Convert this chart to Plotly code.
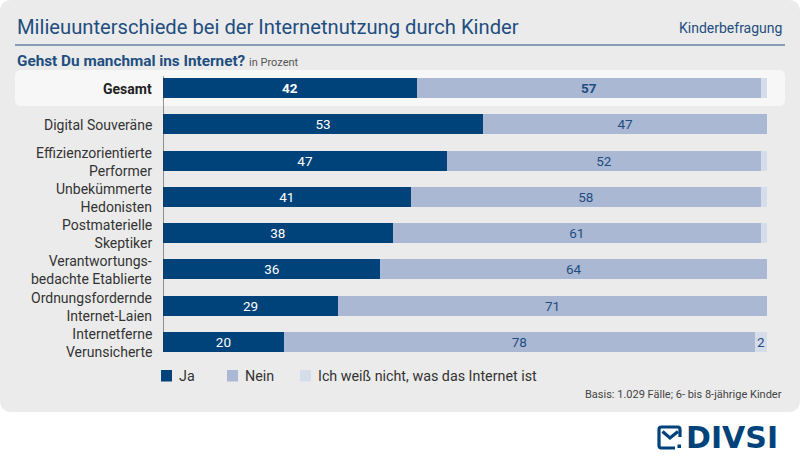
import plotly.graph_objects as go

# ---------------- data ----------------
categories = ["Gesamt", "Digital Souveräne", "Effizienzorientierte<br>Performer",
              "Unbekümmerte<br>Hedonisten", "Postmaterielle<br>Skeptiker",
              "Verantwortungs-<br>bedachte Etablierte", "Ordnungsfordernde<br>Internet-Laien",
              "Internetferne<br>Verunsicherte"]
ja = [42, 53, 47, 41, 38, 36, 29, 20]
nein = [57, 47, 52, 58, 61, 64, 71, 78]
weiss_nicht = [1, 0, 1, 1, 1, 0, 0, 2]
series_names = ["Ja", "Nein", "Ich weiß nicht, was das Internet ist"]

title = "Milieuunterschiede bei der Internetnutzung durch Kinder"
subtitle = "Gehst Du manchmal ins Internet?"
unit = "in Prozent"
tag = "Kinderbefragung"
source = "Basis: 1.029 Fälle; 6- bis 8-jährige Kinder"

# ---------------- style ----------------
W, H = 800, 463
ML, MR, MT, MB = 163, 33, 70, 103
PW, PH = W - ML - MR, H - MT - MB
C_JA = "#00427a"
C_NEIN = "#aab8d4"
C_WN = "#d5dcea"
C_TXT = "#333333"
C_BLUE = "#1f4e80"
FONT = "Roboto, 'Open Sans', sans-serif"


def px_x(p):
    return (p - ML) / PW


def px_y(p):
    return (H - MB - p) / PH


def rrect(x0, y0, x1, y1, r):
    rx, ry = r / PW, r / PH
    X0, X1 = px_x(x0), px_x(x1)
    Y0, Y1 = px_y(y0), px_y(y1)  # Y0 top (larger), Y1 bottom
    return (f"M{X0+rx},{Y0} L{X1-rx},{Y0} Q{X1},{Y0} {X1},{Y0-ry} "
            f"L{X1},{Y1+ry} Q{X1},{Y1} {X1-rx},{Y1} L{X0+rx},{Y1} "
            f"Q{X0},{Y1} {X0},{Y1+ry} L{X0},{Y0-ry} Q{X0},{Y0} {X0+rx},{Y0} Z")


def lab(vals, keep=lambda v: True, bold_first=True):
    out = []
    for i, v in enumerate(vals):
        if v <= 0 or not keep(v):
            out.append("")
        elif i == 0 and bold_first:
            out.append(f"<b>{v}</b>")
        else:
            out.append(str(v))
    return out


fig = go.Figure()
common = dict(orientation="h", textposition="inside", insidetextanchor="middle",
              textangle=0, constraintext="none")
fig.add_trace(go.Bar(y=categories, x=ja, name=series_names[0],
                     marker=dict(color=C_JA, line=dict(width=0)), text=lab(ja),
                     textfont=dict(color="white", size=13.5, family=FONT), **common))
fig.add_trace(go.Bar(y=categories, x=nein, name=series_names[1],
                     marker=dict(color=C_NEIN, line=dict(width=0)), text=lab(nein),
                     textfont=dict(color=C_BLUE, size=13.5, family=FONT), **common))
fig.add_trace(go.Bar(y=categories, x=weiss_nicht, name=series_names[2],
                     marker=dict(color=C_WN, line=dict(width=0)),
                     text=lab(weiss_nicht, keep=lambda v: v >= 2),
                     textfont=dict(color=C_BLUE, size=13.5, family=FONT), **common))

shapes = [
    dict(type="path", xref="paper", yref="paper", path=rrect(0, 0, 800, 412, 12),
         fillcolor="#ebebeb", line=dict(width=0), layer="below"),
    dict(type="path", xref="paper", yref="paper", path=rrect(15, 70, 785, 106, 6),
         fillcolor="#f7f7f7", line=dict(width=0), layer="below"),
    dict(type="line", xref="paper", yref="paper", x0=px_x(15), x1=px_x(785),
         y0=px_y(45), y1=px_y(45), line=dict(color=C_BLUE, width=1)),
    dict(type="line", xref="x", yref="y", x0=0, x1=0, y0=-0.33, y1=7.28,
         line=dict(color=C_TXT, width=1)),
]

annotations = [
    dict(text=title, xref="paper", yref="paper", x=px_x(15), y=px_y(27), xanchor="left",
         yanchor="middle", showarrow=False, font=dict(size=20.2, color=C_BLUE, family=FONT)),
    dict(text=tag, xref="paper", yref="paper", x=px_x(784), y=px_y(28), xanchor="right",
         yanchor="middle", showarrow=False, font=dict(size=14, color=C_BLUE, family=FONT)),
    dict(text=f"<b>{subtitle}</b> <span style='font-size:11px;color:#555555'>{unit}</span>",
         xref="paper", yref="paper", x=px_x(15), y=px_y(61), xanchor="left",
         yanchor="middle", showarrow=False, font=dict(size=15.3, color=C_BLUE, family=FONT)),
    dict(text=source, xref="paper", yref="paper", x=px_x(784), y=px_y(394), xanchor="right",
         yanchor="middle", showarrow=False, font=dict(size=11, color="#444444", family=FONT)),
    dict(text="<b>DIVSI</b>", xref="paper", yref="paper", x=px_x(684), y=px_y(438),
         xanchor="left", yanchor="middle", showarrow=False,
         font=dict(size=30, color=C_JA, family="DejaVu Sans")),
]

# category labels
for i, c in enumerate(categories):
    txt = f"<b>{c}</b>" if i == 0 else c
    annotations.append(dict(text=txt, xref="paper", yref="y", x=0, y=c, xshift=-9, yshift=-1,
                            xanchor="right", yanchor="middle", align="right", showarrow=False,
                            font=dict(size=14, color="#222222" if i == 0 else C_TXT, family=FONT)))

# custom legend
leg_sq = [161, 227, 300]
leg_col = [C_JA, C_NEIN, C_WN]
for sx, col, nm in zip(leg_sq, leg_col, series_names):
    shapes.append(dict(type="rect", xref="paper", yref="paper", x0=px_x(sx), x1=px_x(sx + 11),
                       y0=px_y(370), y1=px_y(381.5), fillcolor=col, line=dict(width=0)))
    annotations.append(dict(text=nm, xref="paper", yref="paper", x=px_x(sx + 16), y=px_y(376),
                            xanchor="left", yanchor="middle", showarrow=False,
                            font=dict(size=14.3, color=C_TXT, family=FONT)))

# logo icon
shapes.append(dict(type="path", xref="paper", yref="paper",
                   path=(f"M{px_x(680)},{px_y(437)} L{px_x(680)},{px_y(429.5)} "
                         f"Q{px_x(680)},{px_y(427)} {px_x(677.5)},{px_y(427)} "
                         f"L{px_x(661.5)},{px_y(427)} Q{px_x(659)},{px_y(427)} {px_x(659)},{px_y(429.5)} "
                         f"L{px_x(659)},{px_y(445.5)} Q{px_x(659)},{px_y(448)} {px_x(661.5)},{px_y(448)} "
                         f"L{px_x(675)},{px_y(448)}"),
                   line=dict(color=C_JA, width=3.2)))
shapes.append(dict(type="path", xref="paper", yref="paper",
                   path=f"M{px_x(662.5)},{px_y(431.5)} L{px_x(670)},{px_y(438)} L{px_x(678)},{px_y(431.5)}",
                   line=dict(color=C_JA, width=3.2)))
shapes.append(dict(type="rect", xref="paper", yref="paper", x0=px_x(677.5), x1=px_x(681),
                   y0=px_y(444.5), y1=px_y(448), fillcolor=C_JA, line=dict(width=0)))

fig.update_layout(
    width=W, height=H, barmode="stack", bargap=0.45, showlegend=False,
    margin=dict(l=ML, r=MR, t=MT, b=MB, pad=0),
    paper_bgcolor="white", plot_bgcolor="rgba(0,0,0,0)",
    font=dict(family=FONT, color=C_TXT),
    xaxis=dict(range=[0, 100], visible=False, fixedrange=True),
    yaxis=dict(categoryorder="array", categoryarray=categories, autorange="reversed",
               showticklabels=False, showgrid=False, zeroline=False, showline=False,
               ticks="", fixedrange=True),
    shapes=shapes, annotations=annotations,
)

fig.write_html("out.html", post_script="document.body.style.margin='0';",
               config={"displayModeBar": False})
